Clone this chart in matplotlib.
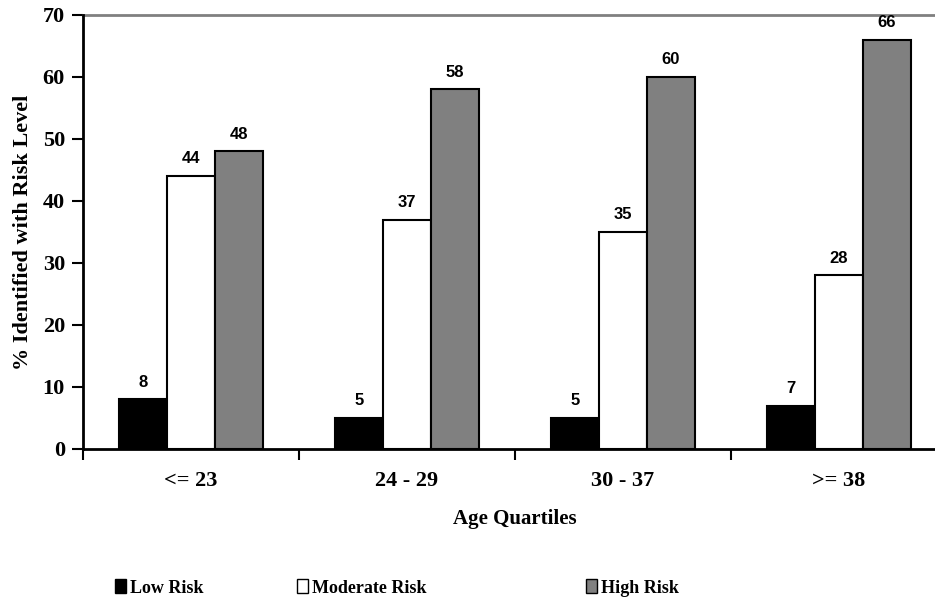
import numpy as np
import matplotlib.pyplot as plt
from matplotlib.patches import Patch

quartiles = ['<= 23', '24 - 29', '30 - 37', '>= 38']
series = ['Low Risk', 'Moderate Risk', 'High Risk']
low = [8, 5, 5, 7]
moderate = [44, 37, 35, 28]
high = [48, 58, 60, 66]
colors = ['#000000', '#ffffff', '#808080']

serif = ['Liberation Serif', 'DejaVu Serif']
sans = ['Liberation Sans', 'DejaVu Sans']

fig = plt.figure(figsize=(9.35, 6.03), dpi=100)
ax = fig.add_axes([83 / 935, 1 - 449 / 603, (947 - 83) / 935, (449 - 15) / 603])

x = np.arange(len(quartiles))
w = 0.222
for i, (vals, c) in enumerate(zip([low, moderate, high], colors)):
    bars = ax.bar(x + (i - 1) * w, vals, w, color=c, edgecolor='black', linewidth=1.5)
    for b, v in zip(bars, vals):
        ax.annotate(str(v), (b.get_x() + b.get_width() / 2, v), xytext=(0, 7),
                    textcoords='offset points', ha='center', va='bottom',
                    fontsize=12, fontweight='bold', family=sans)

ax.set_xlim(-0.5, 3.5)
ax.set_ylim(0, 70)
ax.set_yticks(range(0, 71, 10))
ax.set_yticklabels([str(v) for v in range(0, 71, 10)], fontsize=16, fontweight='bold', family=serif)
ax.set_xticks(np.arange(-0.5, 4, 1))
ax.set_xticklabels([])
ax.set_xticks(x, minor=True)
ax.set_xticklabels(quartiles, minor=True, fontsize=16, fontweight='bold', family=serif)
ax.tick_params(axis='x', which='minor', length=0, pad=16)
ax.tick_params(axis='x', which='major', length=8, width=1.5, direction='out')
ax.tick_params(axis='y', length=8, width=1.5, direction='out', pad=5)

ax.axhline(70, color='#808080', linewidth=2, clip_on=False)
for s in ['top', 'right']:
    ax.spines[s].set_visible(False)
for s in ['left', 'bottom']:
    ax.spines[s].set_linewidth(2)

ax.set_ylabel('% Identified with Risk Level', fontsize=16, fontweight='bold', family=serif, labelpad=7)
ax.set_xlabel('Age Quartiles', fontsize=15, fontweight='bold', family=serif, labelpad=13)

leg_x = [115 / 935, 297 / 935, 586 / 935]
for name, c, lx in zip(series, colors, leg_x):
    h = Patch(facecolor=c, edgecolor='black', linewidth=1)
    fig.legend(handles=[h], labels=[name], loc='center left', bbox_to_anchor=(lx, 1 - 588 / 603),
               frameon=False, handlelength=0.6, handleheight=0.8, handletextpad=0.25,
               borderpad=0, borderaxespad=0,
               prop={'family': serif, 'weight': 'bold', 'size': 13})

fig.savefig('out.png', dpi=100)
